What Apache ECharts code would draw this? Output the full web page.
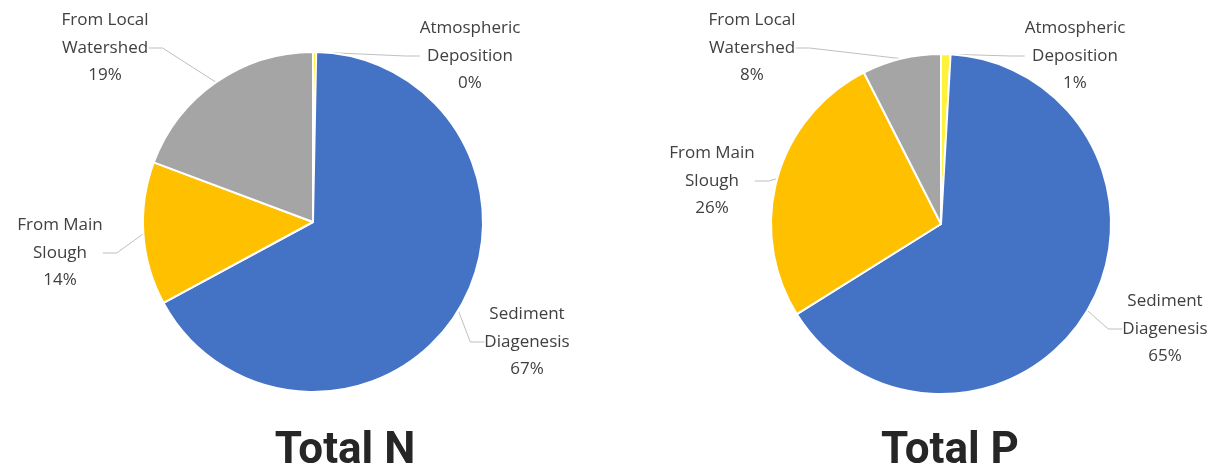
<!DOCTYPE html>
<html>
<head>
<meta charset="utf-8">
<script src="https://cdn.jsdelivr.net/npm/echarts@6/dist/echarts.min.js"></script>
<style>
html,body{margin:0;padding:0;background:#fff;}
#c{width:1218px;height:470px;}
</style>
</head>
<body>
<div id="c"></div>
<script>
// Data
const categories = ['Atmospheric\nDeposition', 'Sediment\nDiagenesis', 'From Main\nSlough', 'From Local\nWatershed'];
const totalN = [0.3, 66.8, 13.6, 19.3];
const totalP = [0.9, 65.2, 26.4, 7.5];
const chartTitles = ['Total N', 'Total P'];
const sliceColors = ['#FFF23A', '#4472C4', '#FFC000', '#A5A5A5'];

// Label placement (layout only)
const labelPos = [
  [[470, 56], [527, 342], [60, 253], [105, 48]],
  [[1075, 56], [1165, 329], [712, 181], [752, 48]]
];

const chart = echarts.init(document.getElementById('c'), null, {renderer: 'canvas'});

function makeSeries(values, center, si) {
  return {
    type: 'pie',
    center: center,
    radius: 170,
    startAngle: 90,
    clockwise: true,
    percentPrecision: 0,
    avoidLabelOverlap: false,
    itemStyle: {borderColor: '#ffffff', borderWidth: 2},
    label: {
      show: true,
      position: 'outside',
      formatter: '{b}\n{d}%',
      color: '#404040',
      fontFamily: 'Open Sans',
      fontSize: 17,
      lineHeight: 27.5
    },
    labelLine: {
      show: true,
      length: 8,
      length2: 14,
      lineStyle: {color: '#BFBFBF', width: 1}
    },
    labelLayout: function (params) {
      const p = labelPos[si][params.dataIndex];
      return {x: p[0], y: p[1], align: 'center', verticalAlign: 'middle'};
    },
    emphasis: {disabled: true},
    data: categories.map((c, i) => ({name: c, value: values[i], itemStyle: {color: sliceColors[i]}}))
  };
}

chart.setOption({
  animation: false,
  backgroundColor: '#ffffff',
  title: [
    {text: chartTitles[0], left: 340, top: 425, textAlign: 'center',
     textStyle: {fontFamily: 'Roboto', fontWeight: 'bold', fontSize: 44, color: '#262626'}},
    {text: chartTitles[1], left: 945, top: 425, textAlign: 'center',
     textStyle: {fontFamily: 'Roboto', fontWeight: 'bold', fontSize: 44, color: '#262626'}}
  ],
  series: [
    makeSeries(totalN, [313, 222], 0),
    makeSeries(totalP, [941, 224], 1)
  ]
});
</script>
</body>
</html>
